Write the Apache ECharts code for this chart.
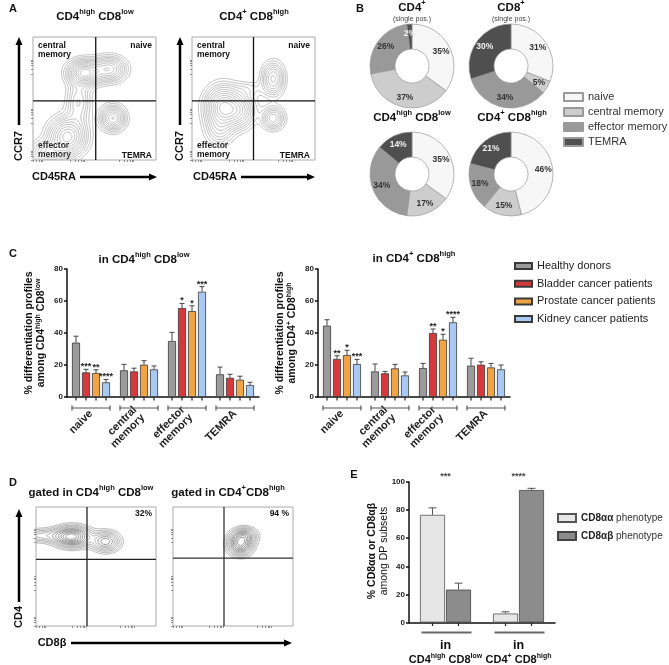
<!DOCTYPE html>
<html>
<head>
<meta charset="utf-8">
<script src="https://cdn.jsdelivr.net/npm/echarts@6/dist/echarts.min.js"></script>
<style>
  html, body { margin: 0; padding: 0; background: #fff; }
  #main { width: 669px; height: 665px; }
</style>
</head>
<body>
<div id="main"></div>
<script>
var FONT = 'Liberation Sans, Arial, sans-serif';

// ---- panel B: subset shares (%) ----
var subsetNames = ['naive', 'central memory', 'effector memory', 'TEMRA'];
var pieCD4 = [35, 37, 26, 2];
var pieCD8 = [31, 5, 34, 30];
var pieHighLow = [35, 17, 34, 14];
var piePlusHigh = [46, 15, 18, 21];

// ---- panel C: differentiation profiles (mean / sem / significance) ----
var groupsC = ['naive', 'central\nmemory', 'effector\nmemory', 'TEMRA'];
var cohorts = ['Healthy donors', 'Bladder cancer patients', 'Prostate cancer patients', 'Kidney cancer patients'];
var lowMean = [[34, 16.7, 35, 14.2], [15.4, 16, 55.6, 12], [15, 20.2, 53.7, 10.8], [9.2, 17.3, 65.8, 7.5]];
var lowSem = [[4, 3.7, 5.4, 4.5], [1.9, 2, 2.9, 2.2], [2, 2.5, 3.3, 2.2], [1.8, 2.1, 3.2, 1.7]];
var lowSig = [['', '', '', ''], ['***', '', '*', ''], ['**', '', '*', ''], ['****', '', '***', '']];
var highMean = [[44.6, 16, 18.1, 19.6], [23.8, 14.8, 40, 20.2], [26.2, 17.9, 35.8, 18.5], [20.6, 13.5, 46.7, 17.3]];
var highSem = [[3.7, 4.6, 2.9, 4.6], [2, 1.2, 2.5, 1.8], [3, 2.5, 3.4, 2.5], [2.9, 2.1, 3.1, 2.7]];
var highSig = [['', '', '', ''], ['**', '', '**', ''], ['*', '', '*', ''], ['***', '', '****', '']];

// ---- panel E: CD8aa vs CD8ab ----
var groupsE = ['{i|in}\n{b|CD4}{s|high}{b| CD8}{s|low}', '{i|in}\n{b|CD4}{s|+}{b| CD8}{s|high}'];
var eNames = ['CD8αα phenotype', 'CD8αβ phenotype'];
var cd8aa = [76.6, 6.4];
var cd8aaSem = [5, 1.2];
var cd8ab = [23.4, 94.3];
var cd8abSem = [4.6, 1.2];
var sigE = ['***', '****'];

// ---- flow plots: density peaks [x, y, spreadX, spreadY, weight] and gates [x, y] (0-100 scale) ----
var blobsAL = [[42, 71, 8, 6, 1.0], [62, 74, 8, 6, 0.7], [65, 34, 6, 6, 0.75], [28, 19, 9, 9, 0.9], [37, 47, 6, 11, 0.35], [12, 6, 9, 6, 0.4]];
var blobsAR = [[25, 43, 8.5, 10, 1.0], [39, 40, 7.5, 8.5, 0.55], [66, 66, 5.5, 8, 0.6], [66, 34, 5.5, 5.5, 0.55], [46, 58, 9, 4, 0.12], [22, 24, 7, 8, 0.3]];
var blobsDL = [[30, 75, 9, 5, 1.0], [58, 71, 7, 5, 0.6], [5, 76, 14, 3.5, 0.3]];
var blobsDR = [[56, 69, 6, 5.5, 1.0], [60, 76, 6, 4, 0.5]];
var gateAL = [51, 48], gateAR = [50, 48], gateDL = [42.5, 56], gateDR = [42.5, 57];
var contourLevels = [0.06, 0.1, 0.15, 0.2, 0.26, 0.33, 0.41, 0.5, 0.6, 0.7, 0.8, 0.9];
var flowTicks = [0, 3, 5, 6.5, 7.5, 30, 34, 37, 39, 40.5, 41.5, 70, 74, 77, 79, 80.5, 81.5];

var subsetColors = ['#f7f7f7', '#cdcdcd', '#999999', '#4f4f4f'];
var cohortColors = ['#9b9b9b', '#d4393b', '#f0a445', '#a9c8f3'];

// marching squares over the density of the peaks
function contour(blobs, rel) {
  var n = 80, f = [], max = 0;
  for (var i = 0; i <= n; i++) {
    f[i] = [];
    for (var j = 0; j <= n; j++) {
      var x = i * 100 / n, y = j * 100 / n, v = 0;
      blobs.forEach(function (b) {
        var dx = (x - b[0]) / b[2], dy = (y - b[1]) / b[3];
        v += b[4] * Math.exp(-0.5 * (dx * dx + dy * dy));
      });
      f[i][j] = v;
      if (v > max) max = v;
    }
  }
  return rel.map(function (r) {
    var L = r * max, segs = [];
    for (var i = 0; i < n; i++) {
      for (var j = 0; j < n; j++) {
        var c = [[i, j], [i + 1, j], [i + 1, j + 1], [i, j + 1]], pts = [];
        for (var e = 0; e < 4; e++) {
          var p = c[e], q = c[(e + 1) % 4];
          var a = f[p[0]][p[1]] - L, b = f[q[0]][q[1]] - L;
          if ((a < 0) !== (b < 0)) {
            var t = a / (a - b);
            pts.push([(p[0] + t * (q[0] - p[0])) * 100 / n, (p[1] + t * (q[1] - p[1])) * 100 / n]);
          }
        }
        if (pts.length >= 2) segs.push([pts[0], pts[1]]);
        if (pts.length === 4) segs.push([pts[2], pts[3]]);
      }
    }
    return segs;
  });
}

function flowSeries(gi, blobs, colorFn) {
  var levels = contour(blobs, contourLevels);
  return {
    type: 'custom', xAxisIndex: gi, yAxisIndex: gi, silent: true, clip: true,
    data: levels.map(function (s, i) { return [50, 50, i]; }),
    renderItem: function (params, api) {
      var segs = levels[params.dataIndex], d = '';
      segs.forEach(function (s) {
        var a = api.coord(s[0]), b = api.coord(s[1]);
        d += 'M' + a[0].toFixed(2) + ' ' + a[1].toFixed(2) + 'L' + b[0].toFixed(2) + ' ' + b[1].toFixed(2);
      });
      if (!d) return { type: 'group', children: [] };
      return { type: 'path', shape: { pathData: d }, style: { fill: null, stroke: colorFn(params.dataIndex), lineWidth: 0.6 } };
    }
  };
}

function gateSeries(gi, gate, color) {
  return {
    type: 'custom', xAxisIndex: gi, yAxisIndex: gi, silent: true, z: 5,
    data: [gate],
    renderItem: function (params, api) {
      var p = api.coord([api.value(0), api.value(1)]);
      var lo = api.coord([0, 0]), hi = api.coord([100, 100]);
      var st = { stroke: color, lineWidth: 1.3 };
      return { type: 'group', children: [
        { type: 'line', shape: { x1: p[0], y1: lo[1], x2: p[0], y2: hi[1] }, style: st },
        { type: 'line', shape: { x1: lo[0], y1: p[1], x2: hi[0], y2: p[1] }, style: st }
      ] };
    }
  };
}

function errSeries(gi, means, sems, sigs, k, nBars, step, capW, color, sigSize) {
  return {
    type: 'custom', xAxisIndex: gi, yAxisIndex: gi, silent: true, z: 4,
    data: means.map(function (m, i) { return [i, m, sems[i]]; }),
    renderItem: function (params, api) {
      var i = api.value(0), m = api.value(1), s = api.value(2);
      var base = api.coord([i, m]), top = api.coord([i, m + s]);
      var x = base[0] + (k - (nBars - 1) / 2) * step;
      var st = { stroke: color, lineWidth: 1 };
      var ch = [
        { type: 'line', shape: { x1: x, y1: base[1], x2: x, y2: top[1] }, style: st },
        { type: 'line', shape: { x1: x - capW / 2, y1: top[1], x2: x + capW / 2, y2: top[1] }, style: st }
      ];
      var sg = sigs ? sigs[params.dataIndex] : '';
      if (sg) ch.push({ type: 'text', x: x, y: top[1] + 2, style: { text: sg, align: 'center', verticalAlign: 'bottom', fontSize: sigSize, fontWeight: 'bold', fill: '#222', fontFamily: FONT } });
      return { type: 'group', children: ch };
    }
  };
}

// small ticks under each bar and the group brackets
function decoSeries(gi, cats, nBars, step, half, bracketGap, capH, lw, color, sigs) {
  return {
    type: 'custom', xAxisIndex: gi, yAxisIndex: gi, silent: true,
    data: cats.map(function (c, i) { return [i, 0]; }),
    renderItem: function (params, api) {
      var i = api.value(0), base = api.coord([i, 0]), ch = [];
      var st = { stroke: '#222', lineWidth: 1.2 };
      for (var k = 0; k < nBars; k++) {
        var x = base[0] + (k - (nBars - 1) / 2) * step;
        ch.push({ type: 'line', shape: { x1: x, y1: base[1], x2: x, y2: base[1] + 3.5 }, style: st });
      }
      var by = base[1] + bracketGap, bs = { stroke: color, lineWidth: lw };
      ch.push({ type: 'line', shape: { x1: base[0] - half[0], y1: by, x2: base[0] + half[1], y2: by }, style: bs });
      if (capH) {
        ch.push({ type: 'line', shape: { x1: base[0] - half[0], y1: by - capH, x2: base[0] - half[0], y2: by + capH }, style: bs });
        ch.push({ type: 'line', shape: { x1: base[0] + half[1], y1: by - capH, x2: base[0] + half[1], y2: by + capH }, style: bs });
      }
      if (sigs) {
        var t = api.coord([i, 100]);
        ch.push({ type: 'text', x: base[0], y: t[1] - 1, style: { text: sigs[i], align: 'center', verticalAlign: 'bottom', fontSize: 9, fontWeight: 'bold', fill: '#444', fontFamily: FONT } });
      }
      return { type: 'group', children: ch };
    }
  };
}

function donut(center, values, name) {
  return {
    type: 'pie', name: name, center: center, radius: [17, 42], startAngle: 90, clockwise: true, silent: true,
    label: { show: true, position: 'inside', formatter: '{c}%', fontSize: 8.5, fontWeight: 'bold', fontFamily: FONT },
    labelLine: { show: false },
    itemStyle: { borderColor: '#9a9a9a', borderWidth: 0.7 },
    emphasis: { disabled: true },
    data: values.map(function (v, i) {
      return { name: subsetNames[i], value: v, itemStyle: { color: subsetColors[i] }, label: { color: i === 3 ? '#f2f2f2' : '#333' } };
    })
  };
}

// ---- graphic helpers (titles, arrows, letters) ----
var richT = {
  b: { fontSize: 11.5, fontWeight: 'bold', fontFamily: FONT, lineHeight: 18, fill: '#111' },
  s: { fontSize: 7.5, fontWeight: 'bold', fontFamily: FONT, lineHeight: 10, verticalAlign: 'top', fill: '#111' },
  r: { fontSize: 10.5, fontFamily: FONT, lineHeight: 18, fill: '#111' }
};
function gtext(x, y, text, style, rot) {
  return { type: 'text', x: x, y: y, rotation: rot || 0, silent: true,
    style: Object.assign({ text: text, align: 'center', verticalAlign: 'middle', fill: '#111', fontFamily: FONT, fontWeight: 'bold', fontSize: 11, rich: richT }, style || {}) };
}
function vArrow(x, yBottom, yTip) {
  return [
    { type: 'line', shape: { x1: x, y1: yBottom, x2: x, y2: yTip + 6 }, style: { stroke: '#000', lineWidth: 2.5 } },
    { type: 'polygon', shape: { points: [[x, yTip], [x - 3.5, yTip + 8], [x + 3.5, yTip + 8]] }, style: { fill: '#000' } }
  ];
}
function hArrow(x0, xTip, y) {
  return [
    { type: 'line', shape: { x1: x0, y1: y, x2: xTip - 6, y2: y }, style: { stroke: '#000', lineWidth: 2.5 } },
    { type: 'polygon', shape: { points: [[xTip, y], [xTip - 8, y - 3.5], [xTip - 8, y + 3.5]] }, style: { fill: '#000' } }
  ];
}

var els = [];
// panel letters
els.push(gtext(13, 9, 'A'), gtext(360, 9, 'B'), gtext(13, 254, 'C'), gtext(13, 483, 'D'), gtext(354, 475, 'E'));
// panel A
els.push(gtext(95, 17, '{b|CD4}{s|high}{b| CD8}{s|low}'));
els.push(gtext(254, 17, '{b|CD4}{s|+}{b| CD8}{s|high}'));
var qs = { fontSize: 8.5, lineHeight: 9, verticalAlign: 'top', align: 'left' };
[[38, 152], [197, 310]].forEach(function (p) {
  els.push(gtext(p[0], 41, 'central\nmemory', qs));
  els.push(gtext(p[1], 41, 'naive', Object.assign({}, qs, { align: 'right' })));
  els.push(gtext(p[0], 141, 'effector\nmemory', qs));
  els.push(gtext(p[1], 151, 'TEMRA', Object.assign({}, qs, { align: 'right' })));
});
els.push(gtext(19, 146, 'CCR7', {}, Math.PI / 2), gtext(180, 146, 'CCR7', {}, Math.PI / 2));
els = els.concat(vArrow(19, 125, 37), vArrow(180, 125, 37));
els.push(gtext(54, 177, 'CD45RA'), gtext(215, 177, 'CD45RA'));
els = els.concat(hArrow(80, 157, 177), hArrow(241, 315, 177));
// panel B titles
els.push(gtext(412, 8, '{b|CD4}{s|+}'), gtext(412, 19, '(single pos.)', { fontSize: 7, fontWeight: 'normal', fill: '#444' }));
els.push(gtext(511, 8, '{b|CD8}{s|+}'), gtext(511, 19, '(single pos.)', { fontSize: 7, fontWeight: 'normal', fill: '#444' }));
els.push(gtext(412, 118, '{b|CD4}{s|high}{b| CD8}{s|low}'), gtext(512, 118, '{b|CD4}{s|+}{b| CD8}{s|high}'));
// panel C titles
els.push(gtext(144, 260, '{b|in CD4}{s|high}{b| CD8}{s|low}'), gtext(414, 259, '{b|in CD4}{s|+}{b| CD8}{s|high}'));
var richY = {
  b: { fontSize: 10.5, fontWeight: 'bold', fontFamily: FONT, lineHeight: 12, fill: '#111' },
  s: { fontSize: 7, fontWeight: 'bold', fontFamily: FONT, lineHeight: 7, verticalAlign: 'top', fill: '#111' },
  r: { fontSize: 10.5, fontFamily: FONT, lineHeight: 12, fill: '#111' }
};
els.push(gtext(35, 333, '{b|% differentiation profiles}\n{b|among CD4}{s|high}{b| CD8}{s|low}', { rich: richY }, Math.PI / 2));
els.push(gtext(286, 333, '{b|% differentiation profiles}\n{b|among CD4}{s|+}{b| CD8}{s|high}', { rich: richY }, Math.PI / 2));
// panel D
els.push(gtext(91, 493, '{b|gated in CD4}{s|high}{b| CD8}{s|low}'), gtext(228, 493, '{b|gated in CD4}{s|+}{b|CD8}{s|high}'));
els.push(gtext(152, 514, '32%', { fontSize: 8.5, align: 'right' }), gtext(289, 514, '94 %', { fontSize: 8.5, align: 'right' }));
els.push(gtext(19, 617, 'CD4', {}, Math.PI / 2));
els = els.concat(vArrow(19, 602, 509));
els.push(gtext(52, 643, 'CD8β'));
els = els.concat(hArrow(71, 292, 643));
// panel E y title
els.push(gtext(378, 551, '{b|% CD8αα or CD8αβ}\n{r|among DP subsets}', { rich: richY }, Math.PI / 2));

// ---- axes ----
function flowAxis(gi) {
  return { gridIndex: gi, type: 'value', min: 0, max: 100, axisLine: { show: false },
    axisTick: { show: true, length: 2, customValues: flowTicks, lineStyle: { color: '#777', width: 0.8 } },
    axisLabel: { show: false }, splitLine: { show: false } };
}
var numAxisLabel = { fontSize: 8, fontWeight: 'bold', color: '#222', margin: 4, fontFamily: FONT };
function barY(gi, max) {
  return { gridIndex: gi, type: 'value', min: 0, max: max, interval: 20,
    axisLine: { show: true, lineStyle: { color: '#111', width: 1.5 } },
    axisTick: { show: true, length: 3, lineStyle: { color: '#111', width: 1.5 } },
    axisLabel: numAxisLabel, splitLine: { show: false } };
}
function barXC(gi) {
  return { gridIndex: gi, type: 'category', data: groupsC,
    axisLine: { lineStyle: { color: '#111', width: 1.5 } }, axisTick: { show: false },
    axisLabel: { interval: 0, rotate: 45, margin: 15, fontSize: 11, fontWeight: 'bold', color: '#222', lineHeight: 11, fontFamily: FONT } };
}

var series = [];
series.push(flowSeries(0, blobsAL, function () { return '#9a9a9a'; }));
series.push(flowSeries(1, blobsAR, function () { return '#9a9a9a'; }));
series.push(flowSeries(4, blobsDL, function (i) { return i > 5 ? '#555' : '#8a8a8a'; }));
series.push(flowSeries(5, blobsDR, function (i) { return i > 5 ? '#555' : '#8a8a8a'; }));
series.push(gateSeries(0, gateAL, '#111'), gateSeries(1, gateAR, '#111'), gateSeries(4, gateDL, '#222'), gateSeries(5, gateDR, '#333'));

series.push(donut([412, 66], pieCD4, 'CD4 single pos.'));
series.push(donut([511, 66], pieCD8, 'CD8 single pos.'));
series.push(donut([412, 174], pieHighLow, 'CD4high CD8low'));
series.push(donut([511, 174], piePlusHigh, 'CD4+ CD8high'));

[[2, lowMean, lowSem, lowSig], [3, highMean, highSem, highSig]].forEach(function (c) {
  cohorts.forEach(function (name, k) {
    series.push({ type: 'bar', name: name, xAxisIndex: c[0], yAxisIndex: c[0], data: c[1][k], barWidth: 8, barGap: '25%',
      itemStyle: { color: cohortColors[k], borderColor: '#3a3a3a', borderWidth: 0.8 }, silent: true });
  });
  cohorts.forEach(function (name, k) {
    series.push(errSeries(c[0], c[1][k], c[2][k], c[3][k], k, 4, 10, 5, '#444', 9));
  });
  series.push(decoSeries(c[0], groupsC, 4, 10, [19, 19], 11, 2.5, 1.2, '#555', null));
});

series.push({ type: 'bar', name: eNames[0], xAxisIndex: 6, yAxisIndex: 6, data: cd8aa, barWidth: 25, barGap: '4%',
  itemStyle: { color: '#e6e6e6', borderColor: '#555', borderWidth: 0.8 }, silent: true });
series.push({ type: 'bar', name: eNames[1], xAxisIndex: 6, yAxisIndex: 6, data: cd8ab, barWidth: 25, barGap: '4%',
  itemStyle: { color: '#8c8c8c', borderColor: '#444', borderWidth: 0.8 }, silent: true });
series.push(errSeries(6, cd8aa, cd8aaSem, null, 0, 2, 26, 8, '#555', 9));
series.push(errSeries(6, cd8ab, cd8abSem, null, 1, 2, 26, 8, '#555', 9));
series.push(decoSeries(6, groupsE, 2, 26, [24, 26], 10, 0, 2, '#6a6a6a', sigE));

var option = {
  animation: false,
  textStyle: { fontFamily: FONT },
  grid: [
    { left: 33, top: 37, width: 123, height: 123, show: true, borderColor: '#aaa', borderWidth: 1 },
    { left: 192, top: 37, width: 123, height: 123, show: true, borderColor: '#aaa', borderWidth: 1 },
    { left: 67, top: 269, width: 192, height: 128 },
    { left: 318, top: 269, width: 192, height: 128 },
    { left: 36, top: 507, width: 120, height: 119, show: true, borderColor: '#aaa', borderWidth: 1 },
    { left: 173, top: 507, width: 120, height: 119, show: true, borderColor: '#aaa', borderWidth: 1 },
    { left: 409, top: 482, width: 146, height: 141 }
  ],
  xAxis: [flowAxis(0), flowAxis(1), barXC(2), barXC(3), flowAxis(4), flowAxis(5),
    { gridIndex: 6, type: 'category', data: groupsE,
      axisLine: { lineStyle: { color: '#111', width: 1.5 } }, axisTick: { show: false },
      axisLabel: { interval: 0, margin: 16, color: '#111', rich: {
        i: { fontSize: 12.5, fontWeight: 'bold', fontFamily: FONT, lineHeight: 14 },
        b: { fontSize: 11, fontWeight: 'bold', fontFamily: FONT, lineHeight: 14 },
        s: { fontSize: 7, fontWeight: 'bold', fontFamily: FONT, lineHeight: 8, verticalAlign: 'top' } } } }],
  yAxis: [flowAxis(0), flowAxis(1), barY(2, 80), barY(3, 80), flowAxis(4), flowAxis(5), barY(6, 100)],
  legend: [
    { data: subsetNames, left: 563, top: 91, padding: 0, orient: 'vertical', icon: 'rect', itemWidth: 19, itemHeight: 8, itemGap: 3,
      selectedMode: false, textStyle: { fontSize: 11, color: '#333', lineHeight: 12, fontFamily: FONT } },
    { data: cohorts, left: 514, top: 260, padding: 0, orient: 'vertical', icon: 'rect', itemWidth: 17, itemHeight: 6, itemGap: 5.7,
      selectedMode: false, textStyle: { fontSize: 11, color: '#222', lineHeight: 12, fontFamily: FONT } },
    { data: eNames, left: 557, top: 513, padding: 0, orient: 'vertical', icon: 'rect', itemWidth: 18, itemHeight: 8, itemGap: 8,
      selectedMode: false,
      formatter: function (name) { return '{b|' + name.replace(' phenotype', '') + '} phenotype'; },
      textStyle: { fontSize: 10, color: '#333', lineHeight: 10, fontFamily: FONT,
        rich: { b: { fontSize: 10, fontWeight: 'bold', color: '#222', fontFamily: FONT } } } }
  ],
  graphic: { elements: els },
  series: series
};

var myChart = echarts.init(document.getElementById('main'));
myChart.setOption(option);
</script>
</body>
</html>
